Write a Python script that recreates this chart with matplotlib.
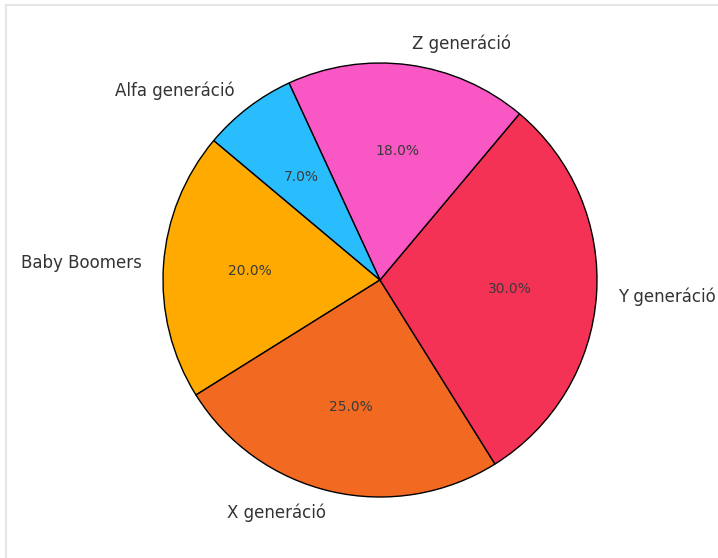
import matplotlib
matplotlib.use("Agg")
import matplotlib.pyplot as plt
from matplotlib.lines import Line2D

labels = ['Baby Boomers', 'X generáció', 'Y generáció', 'Z generáció', 'Alfa generáció']
sizes = [20, 25, 30, 18, 7]
colors = ['#FFAA00', '#F26A22', '#F43256', '#F857C4', '#2ABDFE']

W, H = 718, 558
fig = plt.figure(figsize=(W / 100, H / 100), dpi=100)
cx, cy, R = 380, 278, 217
ax = fig.add_axes([(cx - R) / W, (cy - R) / H, 2 * R / W, 2 * R / H])

wedges, texts, autotexts = ax.pie(
    sizes, labels=labels, colors=colors, autopct='%1.1f%%', startangle=140,
    wedgeprops=dict(edgecolor='black', linewidth=1),
    textprops=dict(fontsize=12, color='#333333'))
for t in autotexts:
    t.set_fontsize(10)
    t.set_color('#3a3a3a')
ax.set_xlim(-1, 1)
ax.set_ylim(-1, 1)
ax.axis('off')

fig.add_artist(Line2D([6 / W, 6 / W], [0, 1 - 5 / H], color='#e6e6e6', linewidth=1.5))
fig.add_artist(Line2D([6 / W, 1], [1 - 5 / H, 1 - 5 / H], color='#e6e6e6', linewidth=1.5))

fig.savefig('out.png', dpi=100)
